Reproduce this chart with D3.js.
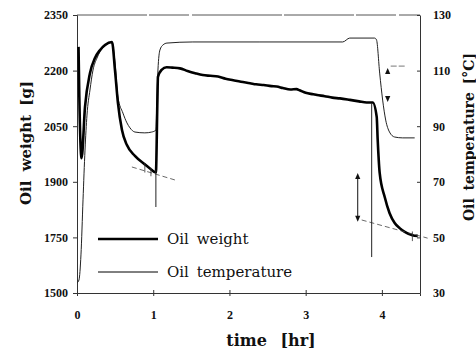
<!DOCTYPE html>
<html><head><meta charset="utf-8">
<script src="https://cdn.jsdelivr.net/npm/d3@7"></script>
<style>body{margin:0;background:#fff}svg{display:block}</style>
</head><body>
<svg id="c" width="476" height="351"></svg>
<script>
// ---- data ----
const timeTicks = [0, 1, 2, 3, 4];
const weightTickValues = [1600, 1750, 1900, 2050, 2200, 2350];
const weightTickLabels = ["1500", "1750", "1900", "2050", "2200", "2350"];
const tempTicks = [30, 50, 70, 90, 110, 130];
const legendLabels = ["Oil weight", "Oil temperature"];

const weightTime = [0.02, 0.03, 0.06, 0.105, 0.17, 0.236, 0.30, 0.367, 0.459,
  0.498, 0.537, 0.59, 0.655, 0.76, 0.89, 0.957, 1.035,
  1.055, 1.062, 1.11, 1.176, 1.25, 1.35, 1.45, 1.55, 1.65, 1.75, 1.85, 1.95, 2.05, 2.15,
  2.27, 2.35, 2.45, 2.55, 2.62, 2.70, 2.80, 2.88, 2.92, 3.00, 3.10, 3.15, 3.25, 3.35, 3.45,
  3.58, 3.70, 3.80, 3.88,
  3.932, 3.945, 3.971, 4.037, 4.10, 4.168, 4.233, 4.30, 4.40, 4.47];
const weightValues = [2264, 2134, 1964, 2102, 2193, 2234, 2255, 2269, 2277,
  2202, 2113, 2040, 1999, 1970, 1947, 1936, 1925,
  2121, 2183, 2202, 2209, 2208, 2206, 2199, 2193, 2188, 2186, 2184, 2178, 2174, 2170,
  2166, 2163, 2161, 2158, 2157, 2153, 2149, 2150, 2147, 2140, 2136, 2134, 2131, 2127, 2125,
  2121, 2117, 2114, 2114,
  2075, 2013, 1924, 1859, 1816, 1789, 1775, 1765, 1756, 1754];

const tempTime = [0, 0.026, 0.052, 0.079, 0.105, 0.131, 0.17, 0.21, 0.262, 0.30, 0.367, 0.459,
  0.498, 0.537, 0.603, 0.655, 0.695, 0.76, 0.89, 0.98, 1.035,
  1.048, 1.062, 1.088, 1.127, 1.18, 1.52, 2.40, 3.486, 3.578, 3.906,
  3.93, 3.971, 4.01, 4.05, 4.10, 4.168, 4.273, 4.43];
const tempValues = [33.6, 34.7, 43.7, 63.5, 81.4, 94.0, 103.0, 110.2, 114.5, 116.7, 118.8, 120.3,
  113.1, 100.5, 94.7, 91.2, 89.4, 87.9, 87.6, 87.9, 88.6,
  99.4, 110.2, 117.4, 119.2, 119.9, 120.3, 120.3, 120.3, 121.7, 121.7,
  121.0, 109.1, 99.4, 92.2, 87.9, 86.1, 85.8, 85.8];

// annotations (data units)
const tangentLines = [
  {t1: 0.72, w1: 1940, t2: 1.284, w2: 1905},
  {t1: 3.735, w1: 1797, t2: 4.60, w2: 1748}
];
const markerLines = [
  {t: 1.035, w1: 1932, w2: 1832},
  {t: 3.866, w1: 2112, w2: 1697}
];
const shortTicks = [
  {t: 0.89, w1: 1951, w2: 1925},
  {t: 0.97, w1: 1938, w2: 1915},
  {t: 4.40, w1: 1766, w2: 1740}
];
const weightArrow = {t: 3.683, w1: 1924, w2: 1792};
const tempArrow = {t: 4.076, T1: 110.9, T2: 98.7, tEnd: 4.3};

// ---- layout ----
const L = 77, R = 420, T = 15, B = 293;
const svg = d3.select("#c");
const x = d3.scaleLinear().domain([0, 4.5]).range([L, R]);
const yW = d3.scaleLinear().domain([1600, 2350]).range([B, T]);
const yT = d3.scaleLinear().domain([30, 130]).range([B, T]);

const axisCol = "#333";
const tickFont = "'Liberation Serif', serif";

// frame lines
svg.append("line").attr("x1", L).attr("x2", R).attr("y1", T).attr("y2", T)
  .attr("stroke", "#555").attr("stroke-width", 1).attr("stroke-dasharray", "70,2,40,3,90,2");

// left axis
const gL = svg.append("g").attr("transform", `translate(${L},0)`)
  .call(d3.axisLeft(yW).tickValues(weightTickValues)
    .tickFormat((d, i) => weightTickLabels[i]).tickSize(4).tickPadding(5));
// right axis
const gR = svg.append("g").attr("transform", `translate(${R},0)`)
  .call(d3.axisRight(yT).tickValues(tempTicks).tickSizeInner(-3).tickSizeOuter(0).tickPadding(13));
// bottom axis
const gB = svg.append("g").attr("transform", `translate(0,${B})`)
  .call(d3.axisBottom(x).tickValues(timeTicks).tickFormat(d3.format("d")).tickSizeOuter(0).tickSize(3).tickPadding(14));
gB.selectAll(".tick line").attr("y1", -3).attr("y2", 3);

[gL, gR, gB].forEach(g => {
  g.select(".domain").attr("stroke", axisCol);
  g.selectAll(".tick line").attr("stroke", axisCol);
  g.selectAll(".tick text").attr("font-family", tickFont).attr("font-size", 12)
    .attr("font-weight", "bold").attr("fill", "#111");
});

// curves
const lineW = d3.line().x((d, i) => x(weightTime[i])).y(d => yW(d)).curve(d3.curveMonotoneX);
const lineT = d3.line().x((d, i) => x(tempTime[i])).y(d => yT(d)).curve(d3.curveMonotoneX);

svg.append("path").datum(tempValues).attr("d", lineT)
  .attr("fill", "none").attr("stroke", "#222").attr("stroke-width", 1);
svg.append("path").datum(weightValues).attr("d", lineW)
  .attr("fill", "none").attr("stroke", "#000").attr("stroke-width", 2.6).attr("stroke-linejoin", "round");

// annotations
svg.selectAll(".tan").data(tangentLines).join("line")
  .attr("x1", d => x(d.t1)).attr("y1", d => yW(d.w1)).attr("x2", d => x(d.t2)).attr("y2", d => yW(d.w2))
  .attr("stroke", "#444").attr("stroke-width", 0.8).attr("stroke-dasharray", "5,3");
svg.selectAll(".mk").data(markerLines).join("line")
  .attr("x1", d => x(d.t)).attr("x2", d => x(d.t)).attr("y1", d => yW(d.w1)).attr("y2", d => yW(d.w2))
  .attr("stroke", "#222").attr("stroke-width", 1);
svg.selectAll(".st").data(shortTicks).join("line")
  .attr("x1", d => x(d.t)).attr("x2", d => x(d.t)).attr("y1", d => yW(d.w1)).attr("y2", d => yW(d.w2))
  .attr("stroke", "#333").attr("stroke-width", 0.8);

function tri(cx, cy, up) {
  const h = 6, w = 2.6;
  return up ? `M${cx},${cy} L${cx - w},${cy + h} L${cx + w},${cy + h} Z`
            : `M${cx},${cy} L${cx - w},${cy - h} L${cx + w},${cy - h} Z`;
}
// weight double arrow
{
  const ax = x(weightArrow.t), y1 = yW(weightArrow.w1), y2 = yW(weightArrow.w2);
  svg.append("line").attr("x1", ax).attr("x2", ax).attr("y1", y1 + 4).attr("y2", y2 - 4)
    .attr("stroke", "#111").attr("stroke-width", 1);
  svg.append("path").attr("d", tri(ax, y1, true)).attr("fill", "#111");
  svg.append("path").attr("d", tri(ax, y2, false)).attr("fill", "#111");
}
// temperature arrow heads
{
  const ax = x(tempArrow.t), y1 = yT(tempArrow.T1), y2 = yT(tempArrow.T2);
  svg.append("path").attr("d", tri(ax, y1, true)).attr("fill", "#111");
  svg.append("path").attr("d", tri(ax, y2, false)).attr("fill", "#111");
  svg.append("line").attr("x1", ax + 3).attr("x2", x(tempArrow.tEnd)).attr("y1", y1 - 2).attr("y2", y1 - 2)
    .attr("stroke", "#555").attr("stroke-width", 0.8).attr("stroke-dasharray", "6,2");
}

// legend
const legendY = [239, 272];
const legendWidth = [2.6, 1];
legendLabels.forEach((lab, i) => {
  svg.append("line").attr("x1", 98).attr("x2", 158).attr("y1", legendY[i]).attr("y2", legendY[i])
    .attr("stroke", "#000").attr("stroke-width", legendWidth[i]);
  svg.append("text").attr("x", 167).attr("y", legendY[i] + 5)
    .attr("font-family", "'DejaVu Serif', serif").attr("font-size", 15)
    .attr("word-spacing", 3).attr("fill", "#111").text(lab);
});

// axis titles
const titleFont = "'DejaVu Serif', serif";
svg.append("text").attr("transform", `translate(31,143) rotate(-90)`)
  .attr("text-anchor", "middle").attr("font-family", titleFont).attr("font-weight", "bold")
  .attr("font-size", 15).attr("word-spacing", 4).attr("fill", "#111").text("Oil weight [g]");
svg.append("text").attr("transform", `translate(474,137) rotate(-90)`)
  .attr("text-anchor", "middle").attr("font-family", titleFont).attr("font-weight", "bold")
  .attr("font-size", 14).attr("word-spacing", 3).attr("fill", "#111").text("Oil temperature [°C]");
svg.append("text").attr("x", 271).attr("y", 346)
  .attr("text-anchor", "middle").attr("font-family", titleFont).attr("font-weight", "bold")
  .attr("font-size", 16).attr("word-spacing", 8).attr("fill", "#111").text("time [hr]");
</script>
</body></html>
